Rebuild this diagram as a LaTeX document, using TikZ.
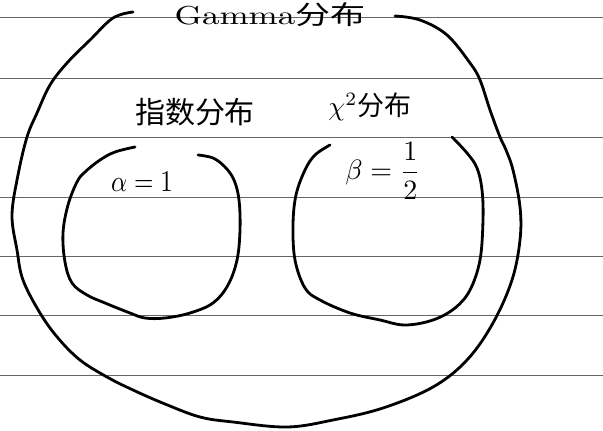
\documentclass[tikz,border=0pt]{standalone}
\usepackage{amsmath}
\usepackage{fontspec}
\newfontfamily\cjk{Noto Sans CJK SC}
\begin{document}
\begin{tikzpicture}[x=1pt,y=-1pt,
  ink/.style={line width=2.8pt, line cap=round, line join=round},
  rule/.style={black!60, line width=0.8pt},
  lbl/.style={inner sep=0pt}]
\fill[white] (0,0) rectangle (603,431);
\useasboundingbox (0,0) rectangle (603,431);
% ruled paper lines
\foreach \y in {17,78,137,197,256,315,375} \draw[rule] (0,\y) -- (603,\y);
% outer Gamma region
\draw[ink] plot[smooth, tension=0.6] coordinates {(133,12) (113,18) (90,40) (67,63) (50,85) (37,113) (27,137) (18,175) (12,215) (17,250) (23,280) (40,313) (58,338) (80,360) (107,377) (133,390) (165,404) (200,417) (233,422) (287,427) (333,420) (383,408) (433,387) (467,360) (493,323) (512,280) (520,240) (520,207) (513,170) (506,150) (500,137) (490,110) (480,80) (470,63) (447,35) (420,20) (395,16)};
% left inner region
\draw[ink] plot[smooth, tension=0.6] coordinates {(135,147) (115,152) (100,160) (85,172) (77,182) (68,205) (63,233) (65,262) (72,283) (87,295) (105,303) (130,313) (145,318) (165,318) (190,313) (213,303) (228,285) (237,260) (240,230) (239,200) (234,180) (225,167) (213,158) (198,155)};
% right inner region
\draw[ink] plot[smooth, tension=0.6] coordinates {(330,145) (315,155) (305,170) (296,195) (293,225) (295,260) (305,288) (320,300) (350,313) (380,320) (405,325) (433,320) (455,308) (470,290) (480,260) (483,220) (482,190) (477,168) (467,153) (452,137)};
% labels
\node[lbl, anchor=base, xscale=3.5, yscale=2.6] (title) at (270,24) {Gamma\cjk 分布};
\node[lbl, scale=3.0] (zhishu) at (195,112) {\cjk 指数分布};
\node[lbl, scale=2.7] (chi) at (370,107) {$\chi^2$\cjk 分布};
\node[lbl, xscale=2.5, yscale=3.0] (alpha) at (142,182) {$\alpha=1$};
\node[lbl, scale=2.8] (beta) at (383,171) {$\beta=\dfrac{1}{2}$};
\end{tikzpicture}
\end{document}
